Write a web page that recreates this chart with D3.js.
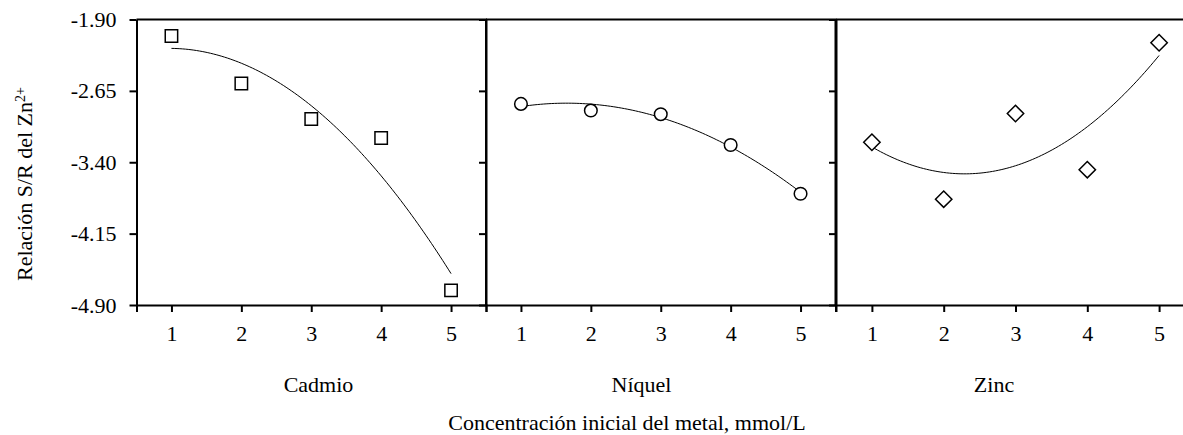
<!DOCTYPE html>
<meta charset="utf-8">
<style>
body { margin: 0; background: #fff; }
text { font-family: "Liberation Serif", "Times New Roman", serif; fill: #000; }
.axis text { font-size: 22px; }
.axis path, .axis line { stroke: #000; stroke-width: 2px; }
.frame { fill: none; stroke: #000; stroke-width: 2px; }
.fit { fill: none; stroke: #000; stroke-width: 1px; }
.point { fill: #fff; stroke: #000; stroke-width: 1.5px; }
.label { font-size: 22px; }
</style>
<svg width="1183" height="435"></svg>
<script src="https://cdn.jsdelivr.net/npm/d3@7"></script>
<script>
// concentration levels, mmol/L
var conc = [1, 2, 3, 4, 5];

// S/R ratio of Zn2+ for each metal
var cadmio = [-2.074, -2.572, -2.945, -3.145, -4.746];
var niquel = [-2.787, -2.857, -2.895, -3.219, -3.731];
var zinc   = [-3.190, -3.788, -2.888, -3.478, -2.144];

var panelNames = ["Cadmio", "Níquel", "Zinc"];
var yTicks = [-1.90, -2.65, -3.40, -4.15, -4.90];

var series = [cadmio, niquel, zinc];
var symbols = ["square", "circle", "diamond"];

var svg = d3.select("svg");

var yTop = 19.5, yBottom = 305;
var panels = [
  {x0: 136.5, x1: 486, labelX: 318.5},
  {x0: 486, x1: 835.5, labelX: 641.5},
  {x0: 836, x1: 1195, labelX: 994}
];

var y = d3.scaleLinear().domain([-4.90, -1.90]).range([yBottom, yTop]);

// plain hyphen instead of the unicode minus
var fmtY = function(d) { return d3.format(".2f")(d).replace("\u2212", "-"); };

// least squares quadratic, like the spreadsheet trend line
function quadFit(xs, ys) {
  var s = [0, 0, 0, 0, 0], t = [0, 0, 0];
  xs.forEach(function(x, i) {
    for (var k = 0; k < 5; k++) s[k] += Math.pow(x, k);
    for (var k = 0; k < 3; k++) t[k] += Math.pow(x, k) * ys[i];
  });
  var A = [[s[0], s[1], s[2], t[0]], [s[1], s[2], s[3], t[1]], [s[2], s[3], s[4], t[2]]];
  for (var i = 0; i < 3; i++) {
    for (var j = i + 1; j < 3; j++) {
      var f = A[j][i] / A[i][i];
      for (var k = i; k < 4; k++) A[j][k] -= f * A[i][k];
    }
  }
  var c = [0, 0, 0];
  for (var i = 2; i >= 0; i--) {
    var v = A[i][3];
    for (var k = i + 1; k < 3; k++) v -= A[i][k] * c[k];
    c[i] = v / A[i][i];
  }
  return function(x) { return c[0] + c[1] * x + c[2] * x * x; };
}

panels.forEach(function(p, pi) {
  var x = d3.scaleLinear().domain([0.5, 5.5]).range([p.x0, p.x1]);
  var g = svg.append("g");

  // top and right border
  g.append("path")
      .attr("class", "frame")
      .attr("d", "M" + p.x0 + "," + yTop + "H" + p.x1 + "V" + yBottom);

  g.append("g")
      .attr("class", "axis")
      .attr("transform", "translate(0," + yBottom + ")")
      .call(d3.axisBottom(x).tickValues(conc).tickSize(7).tickSizeOuter(7).tickPadding(13)
        .tickFormat(d3.format("d")));

  var yAxis = d3.axisLeft(y).tickValues(yTicks).tickSize(7).tickSizeOuter(0).tickPadding(13)
      .tickFormat(fmtY);
  if (pi > 0) yAxis.tickFormat("");
  g.append("g")
      .attr("class", "axis")
      .attr("transform", "translate(" + p.x0 + ",0)")
      .call(yAxis);

  var f = quadFit(conc, series[pi]);
  var xs = d3.range(0, 101).map(function(i) { return 1 + i * 0.04; });
  g.append("path")
      .attr("class", "fit")
      .attr("d", d3.line()
        .x(function(d) { return x(d); })
        .y(function(d) { return y(f(d)); })(xs));

  var sym = symbols[pi];
  g.selectAll(".point")
    .data(series[pi])
    .enter().append("path")
      .attr("class", "point")
      .attr("transform", function(d, i) { return "translate(" + x(conc[i]) + "," + y(d) + ")"; })
      .attr("d", function() {
        if (sym === "square") return "M-6.2,-6.2H6.2V6.2H-6.2Z";
        if (sym === "circle") return d3.symbol(d3.symbolCircle, Math.PI * 6.3 * 6.3)();
        return "M0,-8.2L8.2,0L0,8.2L-8.2,0Z";
      });

  g.append("text")
      .attr("class", "label")
      .attr("x", p.labelX)
      .attr("y", 392)
      .attr("text-anchor", "middle")
      .text(panelNames[pi]);
});

svg.append("text")
    .attr("class", "label")
    .attr("x", 627)
    .attr("y", 430)
    .attr("text-anchor", "middle")
    .text("Concentración inicial del metal, mmol/L");

var yt = svg.append("text")
    .attr("class", "label")
    .attr("transform", "translate(32,184) rotate(-90)")
    .attr("text-anchor", "middle");
yt.append("tspan").text("Relación S/R del Zn");
yt.append("tspan").attr("dy", "-0.5em").style("font-size", "14px").text("2+");
</script>
